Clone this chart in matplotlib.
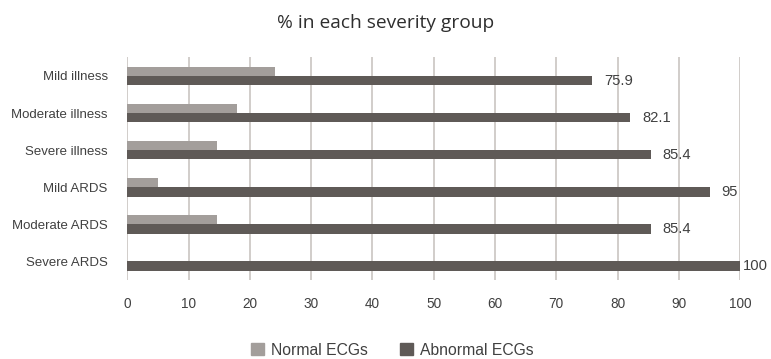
import numpy as np
import matplotlib.pyplot as plt
from matplotlib.patches import Patch

# Данные по группам тяжести
groups = ['Mild illness', 'Moderate illness', 'Severe illness',
          'Mild ARDS', 'Moderate ARDS', 'Severe ARDS']
normal_ecg = [24.1, 17.9, 14.6, 5.0, 14.6, 0.0]
abnormal_ecg = [75.9, 82.1, 85.4, 95.0, 85.4, 100.0]
xticks = list(range(0, 101, 10))

c_normal = '#a39e9b'
c_abnormal = '#5f5a57'
c_text = '#404040'

plt.rcParams['font.family'] = ['Liberation Sans', 'DejaVu Sans']

fig = plt.figure(figsize=(7.71, 3.59), dpi=100)
ax = fig.add_axes([0.165, 0.22, 0.795, 0.62])

y = np.arange(len(groups))
h = 0.25
ax.barh(y - h / 2, normal_ecg, height=h, color=c_normal, zorder=3)
ax.barh(y + h / 2, abnormal_ecg, height=h, color=c_abnormal, zorder=3)

# Подписи значений для аномальных ЭКГ (у края не выходим за рамку)
for yi, v in zip(y, abnormal_ecg):
    ax.text(min(v + 1.9, 100.5), yi + h / 2, f'{v:g}', va='center',
            ha='left', fontsize=10.6, color=c_text, clip_on=False)

ax.set_ylim(len(groups) - 0.5, -0.5)
ax.set_xlim(0, 100)
ax.set_yticks(y)
ax.set_yticklabels(groups, fontsize=9.5, color=c_text)
ax.set_xticks(xticks)
ax.set_xticklabels([str(t) for t in xticks], fontsize=9.8, color=c_text)
ax.tick_params(length=0)
ax.tick_params(axis='x', pad=12)
ax.tick_params(axis='y', pad=14)
ax.grid(axis='x', color='#c9c5c1', linewidth=1.2, zorder=0)
for s in ax.spines.values():
    s.set_visible(False)

fig.text(0.5, 0.935, '% in each severity group', ha='center', va='center',
         fontsize=13.8, color='#2e2e2e', family=['Open Sans', 'DejaVu Sans'])

handles = [Patch(color=c_normal, label='Normal ECGs'),
           Patch(color=c_abnormal, label='Abnormal ECGs')]
fig.legend(handles=handles, loc='center', bbox_to_anchor=(0.509, 0.025),
           ncol=2, frameon=False, fontsize=11.3, handlelength=0.85,
           handleheight=0.85, handletextpad=0.45, columnspacing=2.0,
           labelcolor=c_text)

fig.savefig('out.png', dpi=100)
